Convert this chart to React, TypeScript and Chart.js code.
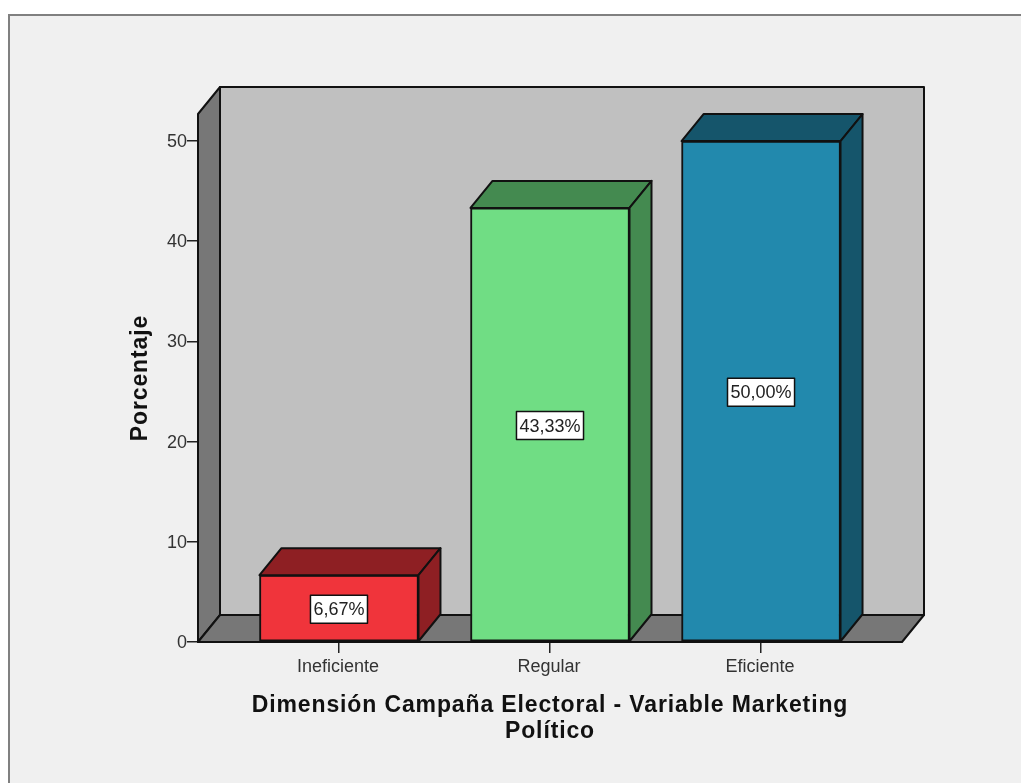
import React, { useEffect, useRef } from "react";
import { Chart, registerables } from "chart.js";

Chart.register(...registerables);

const categories = ["Ineficiente", "Regular", "Eficiente"];
const percentages = [6.67, 43.33, 50.0];
const valueLabels = ["6,67%", "43,33%", "50,00%"];
const frontColors = ["#f0343b", "#70dd84", "#2289ad"];
const sideColors = ["#8e1f23", "#448a50", "#15556b"];
const yTicks = [0, 10, 20, 30, 40, 50];

const DEPTH_X = 22;
const DEPTH_Y = 27;
const LINE = "#111111";

function poly(ctx: CanvasRenderingContext2D, pts: number[][], fill: string) {
  ctx.beginPath();
  pts.forEach(([x, y], i) => (i ? ctx.lineTo(x, y) : ctx.moveTo(x, y)));
  ctx.closePath();
  ctx.fillStyle = fill;
  ctx.fill();
  ctx.lineWidth = 2;
  ctx.strokeStyle = LINE;
  ctx.lineJoin = "round";
  ctx.stroke();
}

// Axis titles are set slightly tracked out; tick labels keep normal spacing.
function trackTitle(scale: any) {
  if (scale.$tracked) return;
  scale.$tracked = true;
  const drawTitle = scale.drawTitle;
  scale.drawTitle = function () {
    const ctx = this.ctx;
    ctx.letterSpacing = "0.87px";
    drawTitle.call(this);
    ctx.letterSpacing = "0px";
  };
}

// Back wall, side wall and floor of the 3D box behind the bars.
const boxPlugin = {
  id: "box3d",
  beforeDatasetsDraw(chart: any) {
    const { ctx, chartArea: a } = chart;
    ctx.save();
    poly(ctx, [[a.left + DEPTH_X, a.top - DEPTH_Y], [a.right + DEPTH_X, a.top - DEPTH_Y], [a.right + DEPTH_X, a.bottom - DEPTH_Y], [a.left + DEPTH_X, a.bottom - DEPTH_Y]], "#c0c0c0");
    poly(ctx, [[a.left, a.bottom], [a.left, a.top], [a.left + DEPTH_X, a.top - DEPTH_Y], [a.left + DEPTH_X, a.bottom - DEPTH_Y]], "#777777");
    poly(ctx, [[a.left, a.bottom], [a.right, a.bottom], [a.right + DEPTH_X, a.bottom - DEPTH_Y], [a.left + DEPTH_X, a.bottom - DEPTH_Y]], "#777777");
    ctx.restore();
  },
};

// Top and side faces of each bar, plus its boxed value label.
const barFacesPlugin = {
  id: "barFaces",
  afterDatasetsDraw(chart: any) {
    const { ctx } = chart;
    const bars = chart.getDatasetMeta(0).data;
    ctx.save();
    bars.forEach((bar: any, i: number) => {
      const l = bar.x - bar.width / 2;
      const r = bar.x + bar.width / 2;
      const t = bar.y;
      const b = bar.base;
      poly(ctx, [[l, t], [r, t], [r + DEPTH_X, t - DEPTH_Y], [l + DEPTH_X, t - DEPTH_Y]], sideColors[i]);
      poly(ctx, [[r, t], [r + DEPTH_X, t - DEPTH_Y], [r + DEPTH_X, b - DEPTH_Y], [r, b]], sideColors[i]);

      ctx.font = "18px 'Liberation Sans'";
      const w = ctx.measureText(valueLabels[i]).width + 6;
      const h = 28;
      const cy = (t + b) / 2 + 1;
      ctx.fillStyle = "#ffffff";
      ctx.fillRect(bar.x - w / 2, cy - h / 2, w, h);
      ctx.lineWidth = 1.5;
      ctx.strokeStyle = LINE;
      ctx.strokeRect(bar.x - w / 2, cy - h / 2, w, h);
      ctx.fillStyle = "#222222";
      ctx.textAlign = "center";
      ctx.textBaseline = "middle";
      ctx.fillText(valueLabels[i], bar.x, cy + 1);
    });
    ctx.restore();
  },
};

export default function App() {
  const ref = useRef<HTMLCanvasElement>(null);
  useEffect(() => {
    const chart = new Chart(ref.current!, {
      type: "bar",
      data: {
        datasets: [
          {
            data: percentages.map((y, i) => ({ x: i, y })),
            backgroundColor: frontColors,
            borderColor: LINE,
            borderWidth: 2,
            borderSkipped: false,
            barThickness: 159,
          },
        ],
      },
      plugins: [boxPlugin, barFacesPlugin],
      options: {
        responsive: false,
        animation: false,
        layout: { padding: { left: 127, right: 119, top: 114, bottom: 39 } },
        plugins: { legend: { display: false }, tooltip: { enabled: false } },
        scales: {
          x: {
            type: "linear",
            offset: false,
            min: -0.668,
            max: 2.668,
            afterBuildTicks(scale: any) {
              scale.ticks = categories.map((_, i) => ({ value: i }));
            },
            afterFit(scale: any) {
              scale.height = 102;
              trackTitle(scale);
            },
            ticks: {
              callback: (v: any) => categories[v],
              autoSkip: false,
              maxRotation: 0,
              padding: 3,
              labelOffset: -1,
              color: "#333333",
              font: { family: "'Liberation Sans'", size: 18 },
            },
            grid: { offset: false, drawOnChartArea: false, drawTicks: true, tickLength: 11, color: "#222222", lineWidth: 1.5 },
            border: { display: false },
            title: {
              display: true,
              text: ["Dimensión Campaña Electoral - Variable Marketing", "Político"],
              color: "#111111",
              font: { family: "'Liberation Sans'", size: 23, weight: "bold", lineHeight: 1.1 },
              padding: 0,
            },
          },
          y: {
            min: 0,
            max: 52.7,
            afterBuildTicks(scale: any) {
              scale.ticks = yTicks.map((value) => ({ value }));
            },
            afterFit(scale: any) {
              scale.width = 71;
              trackTitle(scale);
            },
            ticks: {
              padding: 0,
              labelOffset: 1,
              color: "#333333",
              font: { family: "'Liberation Sans'", size: 18 },
            },
            grid: { drawOnChartArea: false, drawTicks: true, tickLength: 11, color: "#222222", lineWidth: 1.5 },
            border: { display: false },
            title: {
              display: true,
              text: "Porcentaje",
              color: "#111111",
              font: { family: "'Liberation Sans'", size: 23, weight: "bold" },
              padding: 0,
            },
          },
        },
      },
    } as any);
    return () => chart.destroy();
  }, []);

  return (
    <div style={{ position: "fixed", left: 0, top: 0, width: 1021, height: 783, background: "#ffffff", overflow: "hidden" }}>
      <div
        style={{
          position: "absolute",
          left: 8,
          top: 14,
          width: 1013,
          height: 769,
          boxSizing: "border-box",
          background: "#f0f0f0",
          borderLeft: "2px solid #808080",
          borderTop: "2px solid #808080",
        }}
      />
      <canvas ref={ref} width={1021} height={783} style={{ position: "absolute", left: 0, top: 0 }} />
    </div>
  );
}
